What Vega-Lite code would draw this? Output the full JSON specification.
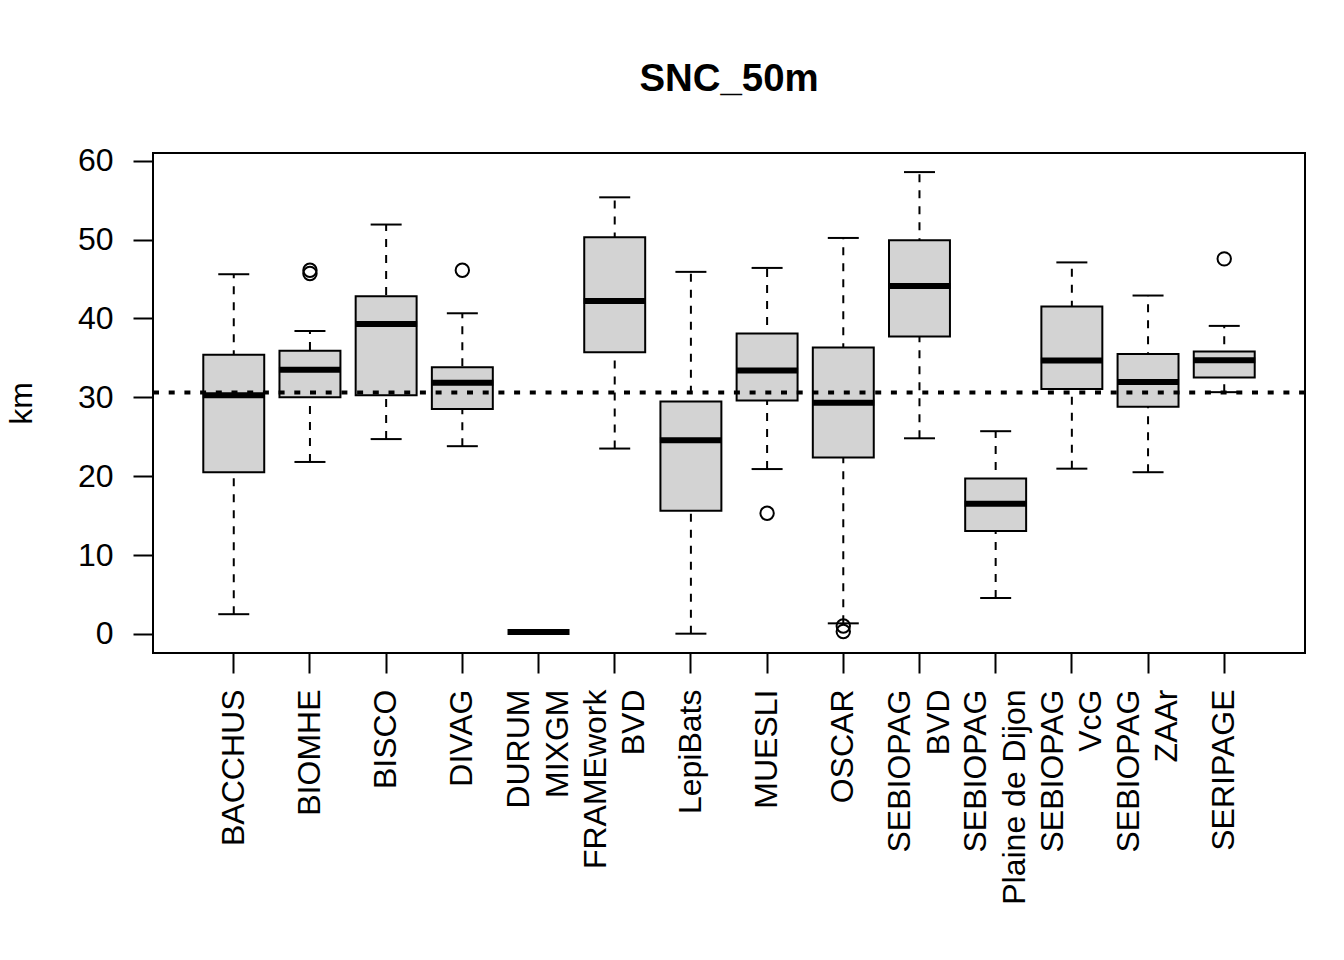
{
  "$schema": "https://vega.github.io/schema/vega-lite/v6.json",
  "autosize": {"type": "none"},
  "width": 1152,
  "height": 500,
  "padding": {"left": 153, "top": 153, "right": 39, "bottom": 307},
  "background": "white",
  "config": {
    "font": "Liberation Sans",
    "view": {"stroke": "black", "strokeWidth": 2},
    "axis": {"grid": false, "domain": false, "tickColor": "black", "tickWidth": 2, "tickSize": 20, "labelColor": "black", "labelFontSize": 32, "labelFont": "Liberation Sans", "titleFont": "Liberation Sans", "titleFontWeight": "normal", "titleColor": "black", "titleFontSize": 32}
  },
  "title": {"text": "SNC_50m", "fontSize": 38.4, "fontWeight": "bold", "font": "Liberation Sans", "color": "black", "anchor": "middle", "frame": "group", "baseline": "alphabetic", "offset": 15},
  "datasets": {
    "boxes": [
      {"group": "BACCHUS", "lo": 2.5, "q1": 20.5, "med": 30.25, "q3": 35.4, "hi": 45.6},
      {"group": "BIOMHE", "lo": 21.8, "q1": 30.0, "med": 33.5, "q3": 35.9, "hi": 38.4},
      {"group": "BISCO", "lo": 24.7, "q1": 30.25, "med": 39.3, "q3": 42.8, "hi": 51.9},
      {"group": "DIVAG", "lo": 23.8, "q1": 28.5, "med": 31.85, "q3": 33.8, "hi": 40.65},
      {"group": "DURUM\nMIXGM", "lo": 0.24, "q1": 0.24, "med": 0.24, "q3": 0.24, "hi": 0.24},
      {"group": "FRAMEwork\nBVD", "lo": 23.5, "q1": 35.7, "med": 42.2, "q3": 50.3, "hi": 55.35},
      {"group": "LepiBats", "lo": 0.03, "q1": 15.6, "med": 24.55, "q3": 29.45, "hi": 45.9},
      {"group": "MUESLI", "lo": 20.9, "q1": 29.6, "med": 33.4, "q3": 38.1, "hi": 46.4},
      {"group": "OSCAR", "lo": 1.34, "q1": 22.35, "med": 29.3, "q3": 36.3, "hi": 50.2},
      {"group": "SEBIOPAG\nBVD", "lo": 24.8, "q1": 37.7, "med": 44.1, "q3": 49.9, "hi": 58.55},
      {"group": "SEBIOPAG\nPlaine de Dijon", "lo": 4.55, "q1": 13.05, "med": 16.5, "q3": 19.7, "hi": 25.7},
      {"group": "SEBIOPAG\nVcG", "lo": 20.95, "q1": 31.05, "med": 34.65, "q3": 41.5, "hi": 47.1},
      {"group": "SEBIOPAG\nZAAr", "lo": 20.5, "q1": 28.8, "med": 31.95, "q3": 35.5, "hi": 42.9},
      {"group": "SERIPAGE", "lo": 30.65, "q1": 32.5, "med": 34.7, "q3": 35.8, "hi": 39.05}
    ],
    "outliers": [
      {"group": "BIOMHE", "km": 46.1},
      {"group": "BIOMHE", "km": 45.7},
      {"group": "DIVAG", "km": 46.1},
      {"group": "MUESLI", "km": 15.3},
      {"group": "OSCAR", "km": 1.0},
      {"group": "OSCAR", "km": 0.3},
      {"group": "SERIPAGE", "km": 47.55}
    ]
  },
  "encoding": {
    "x": {
      "field": "group", "type": "nominal",
      "scale": {"type": "band", "paddingInner": 0, "paddingOuter": 0.56,
        "domain": ["BACCHUS", "BIOMHE", "BISCO", "DIVAG", "DURUM\nMIXGM", "FRAMEwork\nBVD", "LepiBats", "MUESLI", "OSCAR", "SEBIOPAG\nBVD", "SEBIOPAG\nPlaine de Dijon", "SEBIOPAG\nVcG", "SEBIOPAG\nZAAr", "SERIPAGE"]},
      "axis": {"title": null, "labelAngle": 270, "labelAlign": "right", "labelBaseline": "middle", "labelPadding": 16, "labelLineHeight": 38.4, "labelLimit": 0, "labelExpr": "split(datum.label, '\\n')", "labelOverlap": false,
        "labelOffset": {"condition": {"test": "indexof(datum.value, '\\n') >= 0", "value": -19.2}, "value": 0}}
    }
  },
  "layer": [
    {
      "data": {"name": "boxes"},
      "mark": {"type": "rule", "color": "black", "strokeWidth": 2, "strokeDash": [8, 8]},
      "encoding": {
        "y": {"field": "lo", "type": "quantitative", "scale": {"domain": [-2.42, 60.97], "nice": false, "zero": false},
          "axis": {"title": "km", "values": [0, 10, 20, 30, 40, 50, 60], "labelPadding": 20, "titleX": -132, "titleY": 250, "titleAngle": 270, "titleAlign": "center", "titleBaseline": "middle"}},
        "y2": {"field": "hi"}
      }
    },
    {
      "data": {"name": "boxes"},
      "mark": {"type": "bar", "fill": "#d3d3d3", "stroke": "black", "strokeWidth": 2, "width": {"band": 0.8}},
      "encoding": {
        "y": {"field": "q1", "type": "quantitative"},
        "y2": {"field": "q3"}
      }
    },
    {
      "data": {"name": "boxes"},
      "mark": {"type": "tick", "color": "black", "opacity": 1, "thickness": 2, "size": 31, "orient": "horizontal"},
      "encoding": {"y": {"field": "lo", "type": "quantitative"}}
    },
    {
      "data": {"name": "boxes"},
      "mark": {"type": "tick", "color": "black", "opacity": 1, "thickness": 2, "size": 31, "orient": "horizontal"},
      "encoding": {"y": {"field": "hi", "type": "quantitative"}}
    },
    {
      "data": {"name": "boxes"},
      "mark": {"type": "tick", "color": "black", "opacity": 1, "thickness": 6, "size": 62, "orient": "horizontal"},
      "encoding": {"y": {"field": "med", "type": "quantitative"}}
    },
    {
      "data": {"name": "outliers"},
      "mark": {"type": "point", "shape": "circle", "filled": false, "color": "black", "opacity": 1, "strokeWidth": 2, "size": 180},
      "encoding": {"y": {"field": "km", "type": "quantitative"}}
    },
    {
      "data": {"values": [{"ref": 30.6}]},
      "mark": {"type": "rule", "color": "black", "strokeWidth": 4, "strokeDash": [6, 9.7], "strokeCap": "butt"},
      "encoding": {"y": {"field": "ref", "type": "quantitative"}, "x": {"value": 0}, "x2": {"value": 1152}}
    }
  ]
}
